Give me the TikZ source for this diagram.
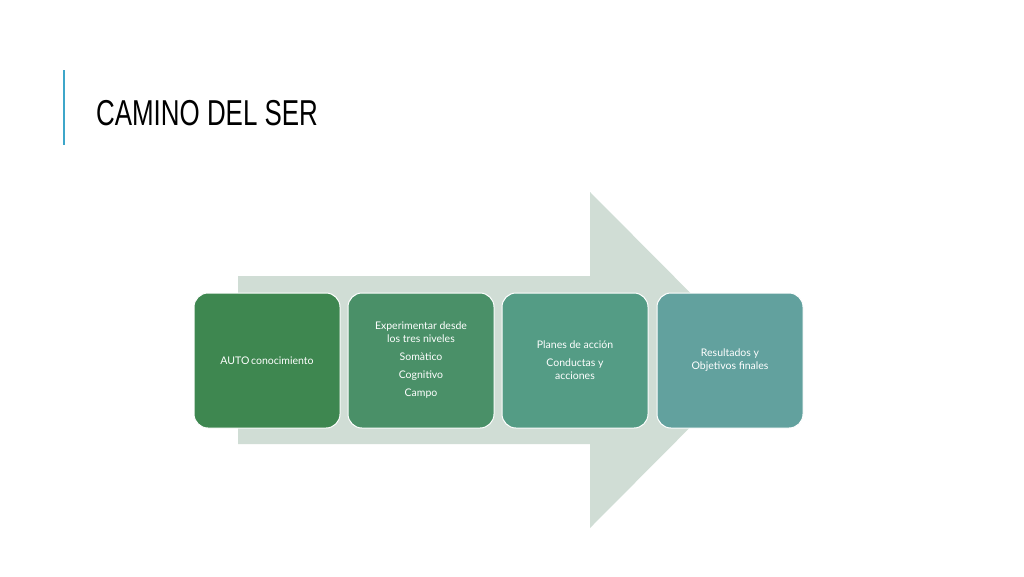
\documentclass[tikz,border=0pt]{standalone}
\usepackage{fontspec}
\setmainfont{Lato}
\newfontfamily\titlefont{Liberation Sans}
\definecolor{arr}{HTML}{D0DDD5}
\definecolor{cA}{HTML}{3E8750}
\definecolor{cB}{HTML}{4A9068}
\definecolor{cC}{HTML}{549C85}
\definecolor{cD}{HTML}{62A19E}
\definecolor{bar}{HTML}{3DA6C9}
\tikzset{stepbox/.style={draw=white,line width=1pt,rounded corners=14pt,minimum width=146pt,minimum height=135pt,text=white,align=center,font=\fontsize{10.5}{13}\selectfont,anchor=north west,inner sep=2pt}}
\begin{document}
\begin{tikzpicture}[x=1pt,y=-1pt]
\useasboundingbox (0,0) rectangle (1024,576);
\fill[white] (0,0) rectangle (1024,576);
\draw[bar,line width=2.5pt] (64,70) -- (64,145);
\node[anchor=base west,inner sep=0,font=\titlefont\fontsize{36}{36}\selectfont,xscale=0.72] (title) at (96,125) {CAMINO DEL SER};
\fill[arr] (238,276) -- (590,276) -- (590,192) -- (757,360) -- (590,528) -- (590,444) -- (238,444) -- cycle;
\node[stepbox,fill=cA] (b1) at (193.5,292.5) {AUTO\,conocimiento};
\node[stepbox,fill=cB] (b2) at (347.5,292.5) {Experimentar desde\\los tres niveles\\[5pt]Somàtico\\[5pt]Cognitivo\\[5pt]Campo};
\node[stepbox,fill=cC] (b3) at (501.5,292.5) {Planes de acción\\[5pt]Conductas y\\acciones};
\node[stepbox,fill=cD] (b4) at (656.5,292.5) {Resultados y\\Objetivos finales};
\end{tikzpicture}
\end{document}
